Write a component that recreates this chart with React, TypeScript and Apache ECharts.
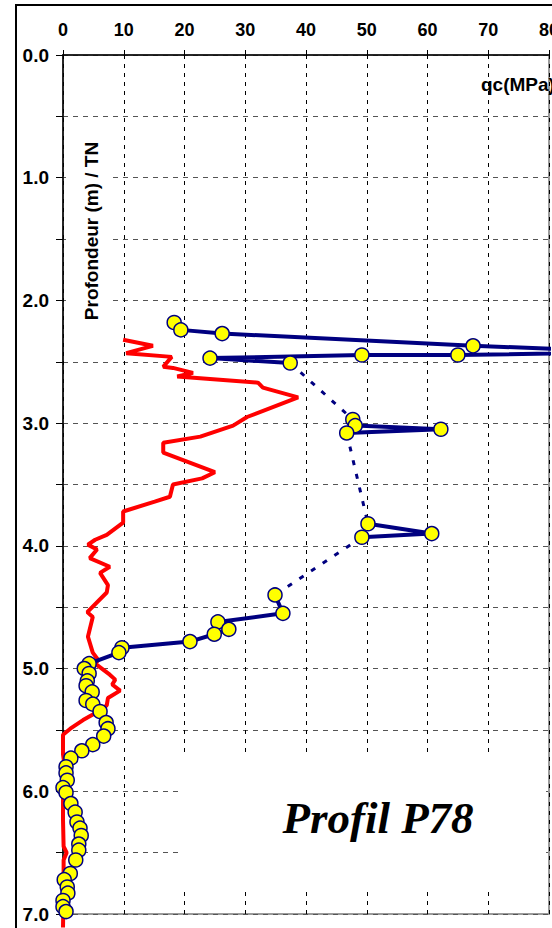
import React, { useEffect, useRef } from "react";
import * as echarts from "echarts";

// x ticks (qc MPa) and depth ticks
const xTicks = [0, 10, 20, 30, 40, 50, 60, 70, 80];
const depthTicks = [0, 1, 2, 3, 4, 5, 6, 7];

// Red profile: [qc, depth]
const redProfile: number[][] = [
  [9.9, 2.32], [14.8, 2.37], [10.4, 2.43], [17.9, 2.46], [16.5, 2.54], [18.1, 2.55],
  [21.4, 2.59], [18.8, 2.62], [32.1, 2.67], [32.9, 2.71], [38.7, 2.79], [30.3, 2.95],
  [28.0, 3.02], [22.6, 3.11], [16.5, 3.16], [16.5, 3.24], [25.0, 3.40], [22.9, 3.45],
  [18.1, 3.50], [17.6, 3.60], [15.1, 3.64], [9.9, 3.72], [9.9, 3.81], [7.2, 3.91],
  [5.3, 3.95], [4.1, 3.99], [5.6, 4.03], [4.4, 4.10], [7.7, 4.17], [6.1, 4.22],
  [7.4, 4.32], [7.2, 4.38], [4.0, 4.54], [4.9, 4.58], [4.1, 4.74], [4.9, 4.87],
  [5.8, 4.93], [5.3, 4.96], [7.7, 5.05], [8.6, 5.09], [8.1, 5.13], [9.4, 5.18],
  [7.4, 5.24], [7.2, 5.30], [5.8, 5.35], [3.3, 5.42], [1.2, 5.49], [0.0, 5.54],
  [0.0, 5.70], [0.3, 5.80], [0.0, 6.05], [0.0, 6.23], [0.1, 6.45], [0.6, 6.50],
  [0.1, 6.56], [0.1, 6.80], [0.0, 7.11],
];

// Blue profile with markers, solid segments
const blueSegA: number[][] = [
  [18.3, 2.18], [19.4, 2.24], [26.2, 2.27], [67.5, 2.37], [95.0, 2.42],
  [65.0, 2.445], [49.2, 2.445], [24.2, 2.47], [37.4, 2.51],
];
const blueSegB: number[][] = [[47.7, 2.97], [48.1, 3.02], [62.2, 3.05], [46.7, 3.08]];
const blueSegC: number[][] = [[50.2, 3.82], [60.7, 3.9], [49.2, 3.93]];
const blueSegD: number[][] = [
  [34.9, 4.4], [36.2, 4.55], [25.5, 4.62], [27.3, 4.68], [24.9, 4.72], [20.9, 4.78],
  [9.7, 4.83], [9.2, 4.87], [4.3, 4.96], [3.5, 5.0], [4.3, 5.04], [4.0, 5.1],
  [3.8, 5.14], [4.8, 5.19], [3.8, 5.26], [4.9, 5.29], [6.1, 5.35], [7.1, 5.44],
  [7.4, 5.49], [6.7, 5.55], [4.9, 5.62], [3.1, 5.67], [1.3, 5.73], [0.5, 5.8],
  [0.5, 5.85], [0.7, 5.91], [0.0, 5.97], [0.5, 6.01], [1.3, 6.1], [2.0, 6.17],
  [2.3, 6.25], [2.8, 6.3], [3.0, 6.36], [2.6, 6.43], [2.6, 6.48], [2.1, 6.56],
  [1.2, 6.67], [0.2, 6.72], [0.7, 6.78], [0.8, 6.83], [0.0, 6.89], [0.0, 6.94],
  [0.5, 6.98],
];

// Dotted connections between blue segments
const dotted1: number[][] = [[37.4, 2.51], [47.7, 2.97]];
const dotted2: number[][] = [[46.7, 3.08], [50.2, 3.82]];
const dotted3: number[][] = [[49.2, 3.93], [34.9, 4.4]];

const NAVY = "#000080";
const FONT = "'Liberation Sans', Arial, sans-serif";

export default function App() {
  const ref = useRef<HTMLDivElement>(null);
  useEffect(() => {
    if (!ref.current) return;
    const chart = echarts.init(ref.current, null, { renderer: "svg" });

    const blue = (data: number[][]) => ({
      type: "line",
      data,
      clip: false,
      symbol: "circle",
      symbolSize: 14,
      showSymbol: true,
      lineStyle: { color: NAVY, width: 4 },
      itemStyle: { color: "#ffff00", borderColor: NAVY, borderWidth: 1.5 },
      z: 4,
    });
    const dotted = (data: number[][]) => ({
      type: "line",
      data,
      clip: false,
      symbol: "none",
      lineStyle: { color: NAVY, width: 3, type: [5, 9] },
      z: 3,
    });

    chart.setOption({
      animation: false,
      backgroundColor: "#ffffff",
      grid: {
        left: 63,
        top: 55,
        right: 3,
        bottom: 14,
        containLabel: false,
        outerBoundsMode: "none",
        show: true,
        borderColor: "#9a9a9a",
        borderWidth: 2,
        backgroundColor: "transparent",
      },
      xAxis: {
        type: "value",
        position: "top",
        min: xTicks[0],
        max: xTicks[xTicks.length - 1],
        interval: 10,
        axisLine: { show: true, lineStyle: { color: "#000", width: 1.5 } },
        axisTick: { show: true, length: 5, lineStyle: { color: "#000", width: 1 } },
        axisLabel: {
          color: "#000",
          fontFamily: FONT,
          fontWeight: "bold",
          fontSize: 18,
          margin: 16,
        },
        splitLine: { show: true, lineStyle: { color: "#000", width: 1, type: [4, 5] } },
      },
      yAxis: {
        type: "value",
        inverse: true,
        min: depthTicks[0],
        max: depthTicks[depthTicks.length - 1],
        interval: 0.5,
        axisLine: { show: true, lineStyle: { color: "#000", width: 1.5 } },
        axisTick: { show: true, length: 7, lineStyle: { color: "#000", width: 1 } },
        axisLabel: {
          color: "#000",
          fontFamily: FONT,
          fontWeight: "bold",
          fontSize: 19,
          margin: 14,
          formatter: (v: number) =>
            depthTicks.includes(v) ? v.toFixed(1) : "",
        },
        splitLine: { show: true, lineStyle: { color: "#555", width: 1, type: [5, 5] } },
      },
      graphic: [
        {
          type: "rect",
          z: 1,
          shape: { x: 66, y: 124, width: 44, height: 210 },
          style: { fill: "#fff" },
        },
        {
          type: "rect",
          z: 1,
          shape: { x: 180, y: 752, width: 366, height: 136 },
          style: { fill: "#fff" },
        },
        {
          type: "text",
          z: 10,
          x: 91,
          y: 231,
          rotation: Math.PI / 2,
          style: {
            text: "Profondeur (m) / TN",
            fill: "#000",
            font: "bold 19px " + FONT,
            textAlign: "center",
            textVerticalAlign: "middle",
          },
        },
        {
          type: "text",
          z: 10,
          x: 481,
          y: 84,
          style: {
            text: "qc(MPa)",
            fill: "#000",
            font: "bold 19px " + FONT,
            textAlign: "left",
            textVerticalAlign: "middle",
          },
        },
        {
          type: "text",
          z: 10,
          x: 378,
          y: 818,
          style: {
            text: "Profil P78",
            fill: "#000",
            font: "italic bold 45px 'Liberation Serif', 'DejaVu Serif', serif",
            textAlign: "center",
            textVerticalAlign: "middle",
          },
        },
        {
          type: "rect",
          z: 20,
          shape: { x: 16, y: 5, width: 700, height: 1000 },
          style: { fill: "none", stroke: "#000", lineWidth: 2 },
        },
      ],
      series: [
        {
          type: "line",
          data: redProfile,
          clip: false,
          symbol: "none",
          lineStyle: { color: "#ff0000", width: 4 },
          z: 2,
        },
        dotted(dotted1),
        dotted(dotted2),
        dotted(dotted3),
        blue(blueSegA),
        blue(blueSegB),
        blue(blueSegC),
        blue(blueSegD),
      ],
    });
    return () => chart.dispose();
  }, []);

  return (
    <div
      ref={ref}
      style={{ position: "absolute", left: 0, top: 0, width: 552, height: 928 }}
    />
  );
}
